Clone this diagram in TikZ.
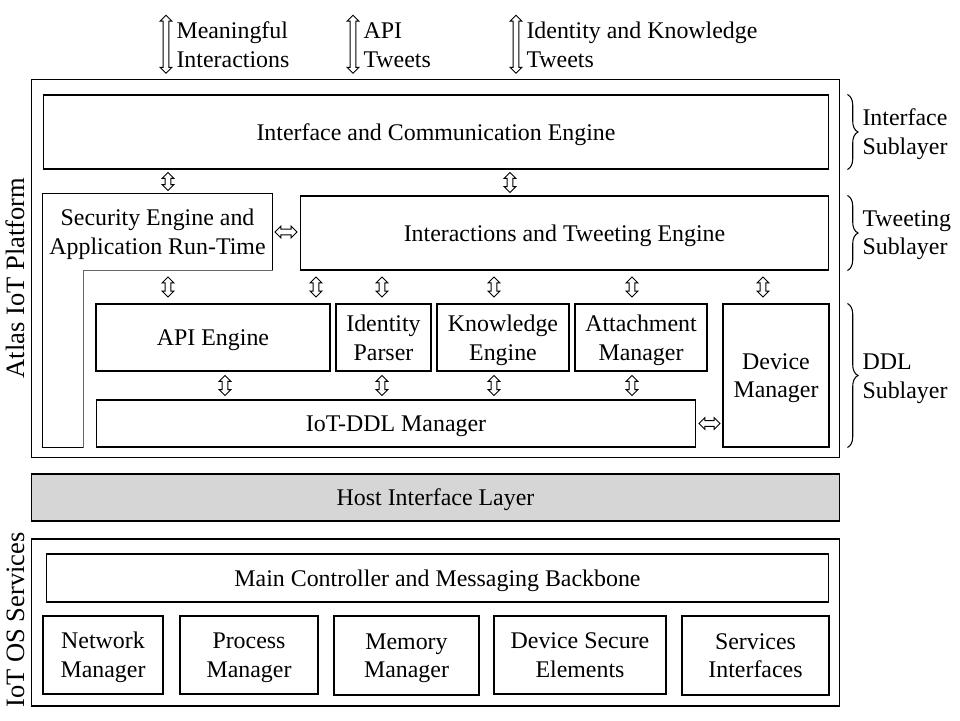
\documentclass[tikz,border=0pt]{standalone}
\usepackage{fontspec}
\setmainfont{Liberation Serif}
\usetikzlibrary{shapes.arrows,decorations.pathreplacing}

\begin{document}
\begin{tikzpicture}[x=0.02cm, y=-0.02cm, line width=0.6pt,
    font=\fontsize{13.6}{16.3}\selectfont]
    \tikzset{
        box/.style={draw, align=center, inner sep=0pt, text depth=0pt},
        dblarrow/.style={
            double arrow, draw, sloped, midway, line width=0.5pt,
            inner xsep=0pt, inner ysep=1.4pt,
            minimum height=#1,
            double arrow head extend=0.06cm, double arrow tip angle=90
        },
        dblarrow/.default=0.4cm,
        toplbl/.style={align=left, anchor=west, inner sep=0pt},
        sublbl/.style={align=left, anchor=west, inner sep=0pt},
        sublayer/.style={decorate, decoration={brace, amplitude=6pt}},
        sidelbl/.style={rotate=90, anchor=base, font=\fontsize{15.1}{18}\selectfont}
    }
    \useasboundingbox (0,0) rectangle (960,720);

    % Atlas IoT platform
    \node[box, minimum width=16.18cm, minimum height=7.58cm] (atlas) at (435.5,268.5) {};
    \node[box, minimum width=15.72cm, minimum height=1.48cm] (ice) at (436,132) {Interface and Communication Engine};
    \node[align=center, inner sep=0pt, text depth=0pt, minimum width=4.58cm, minimum height=1.52cm] (sec) at (157.5,232) {Security Engine and\\Application Run-Time};
    \node[box, minimum width=10.58cm, minimum height=1.48cm] (ite) at (564.5,233) {Interactions and Tweeting Engine};
    \node[box, minimum width=4.68cm, minimum height=1.34cm] (api) at (213,337.5) {API Engine};
    \node[box, minimum width=1.9cm, minimum height=1.34cm] (idp) at (383.5,337.5) {Identity\\Parser};
    \node[box, minimum width=2.64cm, minimum height=1.34cm] (kne) at (503,337.5) {Knowledge\\Engine};
    \node[box, minimum width=2.64cm, minimum height=1.34cm] (atm) at (641,337.5) {Attachment\\Manager};
    \node[box, minimum width=2.12cm, minimum height=2.86cm] (dvm) at (776,375.5) {Device\\Manager};
    \node[box, minimum width=12cm, minimum height=0.94cm] (ddl) at (396,423.5) {IoT-DDL Manager};

    % security engine outline
    \coordinate (secin) at ([xshift=0.82cm] sec.south west);
    \draw (secin |- ddl.south) -- (sec.south west |- ddl.south) -- (sec.north west)
        -- (sec.north east) -- (sec.south east);
    \draw[black!60] (sec.south east) -- (secin) -- (secin |- ddl.south);

    % host layer
    \node[box, fill=black!16, minimum width=16.18cm, minimum height=0.94cm] (hil) at (435.5,497.5) {Host Interface Layer};

    % IoT OS services
    \node[box, minimum width=16.18cm, minimum height=3.34cm] (os) at (435.5,622.5) {};
    \node[box, minimum width=15.66cm, minimum height=0.96cm] (mcb) at (437.5,578) {Main Controller and Messaging Backbone};
    \node[box, minimum width=2.4cm, minimum height=1.56cm] (nwm) at (103,655) {Network\\Manager};
    \node[box, minimum width=2.76cm, minimum height=1.56cm] (prm) at (249,655) {Process\\Manager};
    \node[box, minimum width=2.9cm, minimum height=1.58cm] (mem) at (406.5,655.5) {Memory\\Manager};
    \node[box, minimum width=3.44cm, minimum height=1.56cm] (dse) at (580,655) {Device Secure\\Elements};
    \node[box, minimum width=2.94cm, minimum height=1.58cm] (sif) at (755.5,655.5) {Services\\Interfaces};

    % side labels
    \node[sidelbl] (atlasl) at (24,278) {Atlas IoT Platform};
    \node[sidelbl] (osl) at (24,620) {IoT OS Services};

    % external flows
    \node[toplbl] (mi) at (176,45) {Meaningful\\Interactions};
    \node[toplbl] (at) at (363,45) {API\\Tweets};
    \node[toplbl] (ikt) at (526,45) {Identity and Knowledge\\Tweets};
    \coordinate (mitop) at (166,10);
    \coordinate (attop) at (353,10);
    \coordinate (ikttop) at (516,10);
    \path (mitop) -- node[dblarrow=1.16cm] {} (atlas.north -| mitop);
    \path (attop) -- node[dblarrow=1.16cm] {} (atlas.north -| attop);
    \path (ikttop) -- node[dblarrow=1.16cm] {} (atlas.north -| ikttop);

    % arrow columns
    \coordinate (c1) at (168,0);
    \coordinate (c2) at (316,0);
    \coordinate (c3) at (382,0);
    \coordinate (c4) at (494,0);
    \coordinate (c5) at (510,0);
    \coordinate (c6) at (632,0);
    \coordinate (c7) at (763,0);
    \coordinate (c8) at (225,0);

    \path (ice.south -| c1) -- node[dblarrow=0.36cm] {} (sec.north -| c1);
    \path (ice.south -| c5) -- node[dblarrow=0.4cm] {} (ite.north -| c5);
    \path (sec.east) -- node[dblarrow=0.44cm] {} (ite.west |- sec.east);
    \path (sec.south -| c1) -- node[dblarrow] {} (api.north -| c1);
    \path (ite.south -| c2) -- node[dblarrow] {} (api.north -| c2);
    \path (ite.south -| c3) -- node[dblarrow] {} (idp.north -| c3);
    \path (ite.south -| c4) -- node[dblarrow] {} (kne.north -| c4);
    \path (ite.south -| c6) -- node[dblarrow] {} (atm.north -| c6);
    \path (ite.south -| c7) -- node[dblarrow] {} (dvm.north -| c7);
    \path (api.south -| c8) -- node[dblarrow] {} (ddl.north -| c8);
    \path (idp.south -| c3) -- node[dblarrow] {} (ddl.north -| c3);
    \path (kne.south -| c4) -- node[dblarrow] {} (ddl.north -| c4);
    \path (atm.south -| c6) -- node[dblarrow] {} (ddl.north -| c6);
    \path (ddl.east) -- node[dblarrow=0.42cm] {} (dvm.west |- ddl.east);

    % sublayers
    \draw[sublayer] ([xshift=0.14cm] atlas.east |- ice.north) -- ([xshift=0.14cm] atlas.east |- ice.south);
    \draw[sublayer] ([xshift=0.14cm] atlas.east |- ite.north) -- ([xshift=0.14cm] atlas.east |- ite.south);
    \draw[sublayer] ([xshift=0.14cm] atlas.east |- dvm.north) -- ([xshift=0.14cm] atlas.east |- dvm.south);
    \node[sublbl] (isl) at (862,134) {Interface\\Sublayer};
    \node[sublbl] (tsl) at (862,235) {Tweeting\\Sublayer};
    \node[sublbl] (dsl) at (862,379) {DDL\\Sublayer};
\end{tikzpicture}
\end{document}
